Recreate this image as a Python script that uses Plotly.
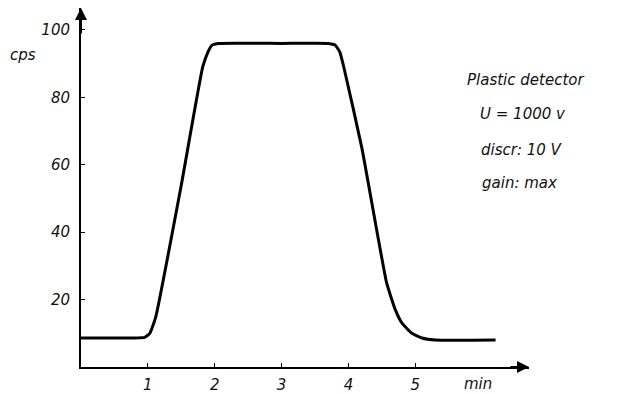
import plotly.graph_objects as go

# Data (time in min, counts per second)
time_min = [0, 0.5, 0.95, 1.03, 1.08, 1.12, 1.5, 1.82, 1.9, 1.96, 2.05, 3.0, 3.7, 3.8,
            3.87, 3.93, 4.2, 4.57, 4.7, 4.8, 4.95, 5.1, 5.3, 6.2]
cps = [8.6, 8.6, 8.8, 10, 12.5, 15, 54, 89, 93.5, 95.5, 96, 96, 96, 95.5,
       93.5, 89, 65, 25, 17, 13, 10, 8.6, 8.0, 8.0]

x_ticks = [1, 2, 3, 4, 5]
y_ticks = [20, 40, 60, 80, 100]
info_lines = ["Plastic detector", "U = 1000 v", "discr: 10 V", "gain: max"]

FONT = "DejaVu Sans"
font = dict(family=FONT, size=15, color="#111", style="italic")

fig = go.Figure()
fig.add_trace(go.Scatter(x=time_min, y=cps, mode="lines",
                         line=dict(color="#000", width=3, shape="spline", smoothing=0.4),
                         hoverinfo="skip", showlegend=False))

xr = [0, 6.7]
yr = [0, 106.5]

fig.update_layout(
    width=620, height=394,
    margin=dict(l=81, r=91, t=8, b=27),
    plot_bgcolor="white", paper_bgcolor="white",
    xaxis=dict(range=xr, tickvals=x_ticks, ticktext=[str(v) for v in x_ticks],
               ticks="inside", ticklen=4, tickwidth=1, tickcolor="#000",
               showline=True, linecolor="#000", linewidth=2, automargin=False,
               showgrid=False, zeroline=False, tickfont=font, ticklabelstandoff=3),
    yaxis=dict(range=yr, tickvals=y_ticks, ticktext=[str(v) for v in y_ticks],
               ticks="inside", ticklen=4, tickwidth=1, tickcolor="#000",
               showline=True, linecolor="#000", linewidth=2, automargin=False,
               showgrid=False, zeroline=False, tickfont=font, ticklabelstandoff=6),
)

annots = []
# axis arrowheads
annots.append(dict(x=xr[1], y=0, ax=xr[1] - 0.3, ay=0, xref="x", yref="y", axref="x", ayref="y",
                   showarrow=True, arrowhead=2, arrowsize=1.2, arrowwidth=2, arrowcolor="#000", text=""))
annots.append(dict(x=0, y=yr[1], ax=0, ay=yr[1] - 8, xref="x", yref="y", axref="x", ayref="y",
                   showarrow=True, arrowhead=2, arrowsize=1.2, arrowwidth=2, arrowcolor="#000", text=""))
# axis unit labels
annots.append(dict(x=-0.163, y=0.869, xref="paper", yref="paper", text="cps", showarrow=False,
                   font=font, xanchor="left", yanchor="middle"))
annots.append(dict(x=0.850, y=-0.046, xref="paper", yref="paper", text="min", showarrow=False,
                   font=font, xanchor="left", yanchor="middle"))
# info text block
xs = [0.857, 0.886, 0.888, 0.891]
ys = [0.799, 0.705, 0.604, 0.513]
for txt, xx, yy in zip(info_lines, xs, ys):
    annots.append(dict(x=xx, y=yy, xref="paper", yref="paper", text=txt, showarrow=False,
                       font=font, xanchor="left", yanchor="middle"))
fig.layout.annotations = annots

fig.write_html("out.html")
